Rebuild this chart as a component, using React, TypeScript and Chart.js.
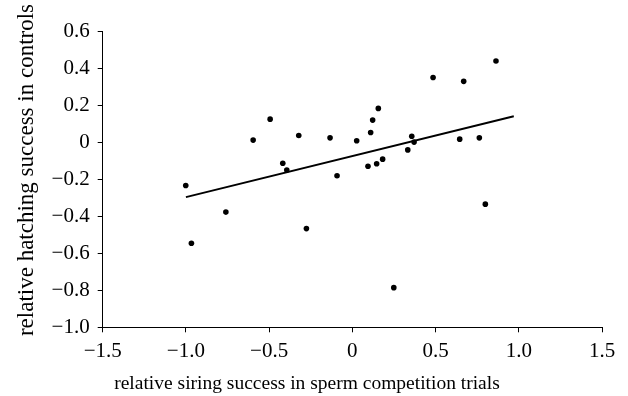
import React, { useEffect, useRef } from "react";
import { Chart, registerables } from "chart.js";

Chart.register(...registerables);

const siringSuccess = [
  -0.596, -0.494, -0.322, -0.134, -0.418, -0.394, -0.092,
  0.863, 0.485, 0.669, 0.156, 0.122, 0.11, 0.026, 0.357, 0.371, 0.645, 0.763,
  0.333, 0.094, 0.146, 0.182,
  -1.001, -0.967, -0.76, -0.276, 0.799, 0.249,
];
const hatchingSuccess = [
  0.011, 0.124, 0.036, 0.023, -0.114, -0.151, -0.182,
  0.438, 0.349, 0.328, 0.182, 0.119, 0.052, 0.007, 0.032, 0.0, 0.016, 0.023,
  -0.042, -0.13, -0.117, -0.092,
  -0.234, -0.546, -0.378, -0.467, -0.335, -0.786,
];
const fitX = [-1.0, 0.97];
const fitY = [-0.297, 0.14];

const xTicks = [-1.5, -1.0, -0.5, 0, 0.5, 1.0, 1.5];
const yTicks = [0.6, 0.4, 0.2, 0, -0.2, -0.4, -0.6, -0.8, -1.0];

const xTitle = "relative siring success in sperm competition trials";
const yTitle = "relative hatching success in controls";

const FONT = "'Liberation Serif', 'Times New Roman', serif";

const fmt = (v: number) => {
  if (Math.abs(v) < 1e-9) return "0";
  const s = Math.abs(v).toFixed(1);
  return (v < 0 ? "\u2212" : "") + s;
};

const titlesPlugin = {
  id: "axisTitles",
  afterDraw(chart: any) {
    const ctx = chart.ctx;
    ctx.save();
    ctx.fillStyle = "#000";
    ctx.textAlign = "center";
    ctx.textBaseline = "alphabetic";
    ctx.font = `19.5px ${FONT}`;
    ctx.fillText(xTitle, 307, 389);
    ctx.translate(33, 170);
    ctx.rotate(-Math.PI / 2);
    ctx.font = `23px ${FONT}`;
    ctx.fillText(yTitle, 0, 0);
    ctx.restore();
  },
};

export default function App() {
  const ref = useRef<HTMLCanvasElement | null>(null);
  useEffect(() => {
    if (!ref.current) return;
    const chart = new Chart(ref.current, {
      type: "scatter",
      data: {
        datasets: [
          {
            type: "scatter",
            data: siringSuccess.map((x, i) => ({ x, y: hatchingSuccess[i] })),
            backgroundColor: "#000",
            borderColor: "#000",
            pointRadius: 2.8,
            pointBorderWidth: 0,
          },
          {
            type: "line",
            data: fitX.map((x, i) => ({ x, y: fitY[i] })),
            borderColor: "#000",
            borderWidth: 2,
            pointRadius: 0,
            fill: false,
          } as any,
        ],
      },
      options: {
        animation: false,
        responsive: false,
        layout: { padding: { top: 31, right: 26, left: 0, bottom: 0 } },
        plugins: { legend: { display: false }, tooltip: { enabled: false } },
        scales: {
          x: {
            type: "linear",
            min: -1.5,
            max: 1.5,
            afterBuildTicks: (s: any) => {
              s.ticks = xTicks.map((v) => ({ value: v }));
            },
            afterFit: (s: any) => {
              s.height = 68.7;
            },
            grid: { drawOnChartArea: false, drawTicks: true, tickLength: 5, color: "#000" },
            border: { display: true, color: "#000", width: 1 },
            ticks: {
              color: "#000",
              font: { family: FONT, size: 21 },
              padding: 7,
              maxRotation: 0,
              callback: (v: any) => fmt(Number(v)),
            },
          },
          y: {
            type: "linear",
            min: -1.0,
            max: 0.6,
            afterBuildTicks: (s: any) => {
              s.ticks = yTicks.map((v) => ({ value: v }));
            },
            afterFit: (s: any) => {
              s.width = 102.7;
            },
            grid: { drawOnChartArea: false, drawTicks: true, tickLength: 5, color: "#000" },
            border: { display: true, color: "#000", width: 1 },
            ticks: {
              color: "#000",
              font: { family: FONT, size: 21 },
              padding: 8,
              callback: (v: any) => fmt(Number(v)),
            },
          },
        },
      },
      plugins: [titlesPlugin],
    });
    return () => chart.destroy();
  }, []);
  return (
    <div style={{ position: "absolute", left: 0, top: 0, width: 628, height: 396, background: "#fff" }}>
      <canvas ref={ref} width={628} height={396} style={{ width: 628, height: 396 }} />
    </div>
  );
}
